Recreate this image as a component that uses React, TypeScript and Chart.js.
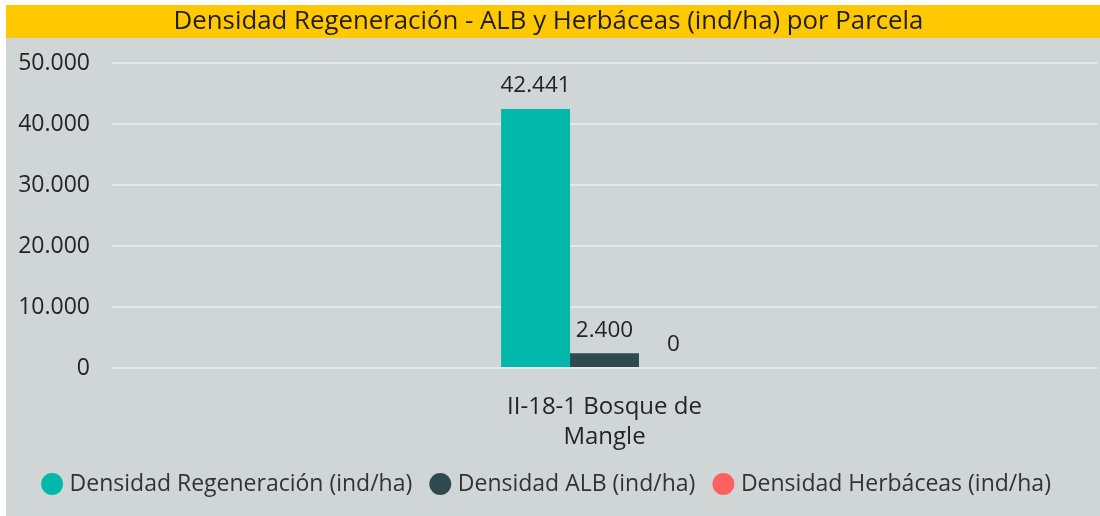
import { useEffect, useRef } from "react";
import { Chart, registerables } from "chart.js";

Chart.register(...registerables);

const titleText = "Densidad Regeneración - ALB y Herbáceas (ind/ha) por Parcela";
const categories = [["II-18-1 Bosque de", "Mangle"]];
const seriesNames = [
  "Densidad Regeneración (ind/ha)",
  "Densidad ALB (ind/ha)",
  "Densidad Herbáceas (ind/ha)",
];
const regeneracion = [42441];
const alb = [2400];
const herbaceas = [0];
const yTickValues = [0, 10000, 20000, 30000, 40000, 50000];
const seriesColors = ["#01B8AA", "#2F4A4E", "#FD625E"];

const FONT = "'Open Sans', 'Noto Sans', sans-serif";

const fmt = (n: number) => String(Math.round(n)).replace(/\B(?=(\d{3})+(?!\d))/g, ".");

const backgroundPlugin = {
  id: "bgBands",
  beforeDraw(chart: any) {
    const { ctx, width, height } = chart;
    ctx.save();
    ctx.fillStyle = "#FFFFFF";
    ctx.fillRect(0, 0, width, height);
    ctx.fillStyle = "#D0D5D6";
    ctx.fillRect(6, 38, width - 6, height - 38);
    ctx.fillStyle = "#FFC800";
    ctx.fillRect(6, 5, width - 6, 33);
    ctx.restore();
  },
};

const valueLabelPlugin = {
  id: "valueLabels",
  afterDatasetsDraw(chart: any) {
    const { ctx } = chart;
    ctx.save();
    ctx.font = `22.5px ${FONT}`;
    ctx.fillStyle = "#252423";
    ctx.textAlign = "center";
    ctx.textBaseline = "middle";
    chart.data.datasets.forEach((ds: any, i: number) => {
      const meta = chart.getDatasetMeta(i);
      meta.data.forEach((bar: any, j: number) => {
        const v = ds.data[j];
        ctx.fillText(fmt(v), bar.x, bar.y - 23);
      });
    });
    ctx.restore();
  },
};

export default function App() {
  const ref = useRef<HTMLCanvasElement | null>(null);

  useEffect(() => {
    document.body.style.margin = "0";
    if (!ref.current) return;
    const chart = new Chart(ref.current, {
      type: "bar",
      data: {
        labels: categories as any,
        datasets: [
          { label: seriesNames[0], data: regeneracion, backgroundColor: seriesColors[0] },
          { label: seriesNames[1], data: alb, backgroundColor: seriesColors[1] },
          { label: seriesNames[2], data: herbaceas, backgroundColor: seriesColors[2] },
        ],
      },
      plugins: [backgroundPlugin, valueLabelPlugin],
      options: {
        responsive: false,
        animation: false,
        devicePixelRatio: 1,
        layout: { padding: { left: 0, right: 3, top: 0, bottom: 10.5 } },
        datasets: {
          bar: { barPercentage: 1, categoryPercentage: 0.21 },
        },
        plugins: {
          title: {
            display: true,
            text: titleText,
            color: "#1F1F1F",
            font: { family: FONT, size: 25.8, weight: "normal" as any, lineHeight: 1.2 },
            padding: { top: 6.5, bottom: 25.5 },
          },
          legend: {
            position: "bottom",
            labels: {
              usePointStyle: true,
              pointStyle: "circle",
              boxHeight: 15.5,
              boxWidth: 12,
              padding: 22,
              color: "#333333",
              font: { family: FONT, size: 23 },
            },
          },
          tooltip: { enabled: false },
        },
        scales: {
          x: {
            grid: { display: false, drawTicks: false },
            border: { display: false },
            ticks: {
              color: "#252423",
              font: { family: FONT, size: 24, lineHeight: 1.25 },
              padding: 24,
              maxRotation: 0,
            },
            afterFit(scale: any) {
              scale.height = 82.5;
            },
          },
          y: {
            min: 0,
            max: 50000,
            grid: { color: "#E6E9EA", lineWidth: 2, drawTicks: false },
            border: { display: false },
            afterBuildTicks(scale: any) {
              scale.ticks = yTickValues.map((v) => ({ value: v }));
            },
            ticks: {
              color: "#252423",
              font: { family: FONT, size: 23 },
              padding: 22,
              callback: (v: any) => fmt(Number(v)),
            },
            afterFit(scale: any) {
              scale.width = 112;
            },
          },
        },
      },
    });
    return () => chart.destroy();
  }, []);

  return <canvas ref={ref} width={1100} height={516} style={{ display: "block" }} />;
}
